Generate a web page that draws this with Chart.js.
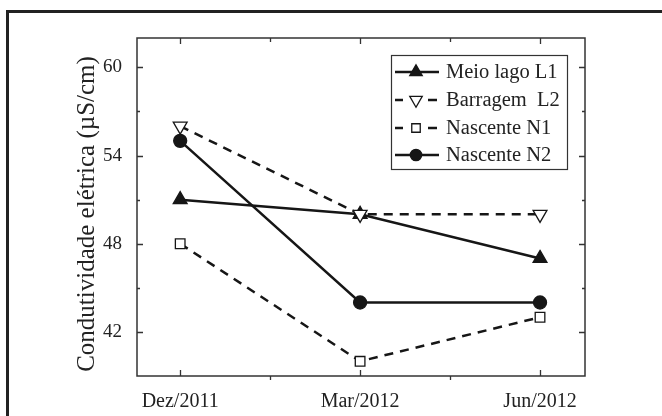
<!DOCTYPE html>
<html><head><meta charset="utf-8">
<script src="https://cdn.jsdelivr.net/npm/chart.js@4.4.0/dist/chart.umd.min.js"></script>
<style>html,body{margin:0;padding:0;background:#fff}canvas{display:block}</style>
</head><body>
<canvas id="c" width="662" height="416"></canvas>
<script>
const categories = ['Dez/2011', 'Mar/2012', 'Jun/2012'];
const meioLagoL1 = [51, 50, 47];
const barragemL2 = [56, 50, 50];
const nascenteN1 = [48, 40, 43];
const nascenteN2 = [55, 44, 44];
const seriesNames = ['Meio lago L1', 'Barragem  L2', 'Nascente N1', 'Nascente N2'];
const yTicks = [42, 48, 54, 60];
const yMinorTicks = [45, 51, 57];
const xMinorTicks = [0.5, 1.5];
const yTitle = 'Condutividade elétrica (µS/cm)';

const INK = '#161616';
const AXIS = '#333';
const FONT = '"Liberation Serif", "DejaVu Serif", serif';
const DASH = [9, 7];

function pts(arr) { return arr.map((v, i) => ({ x: i, y: v })); }

const styles = [
  { pointStyle: 'triangle', rotation: 0, radius: 8, fill: INK, dash: [] },
  { pointStyle: 'triangle', rotation: 180, radius: 8, fill: '#fff', dash: DASH },
  { pointStyle: 'rect', rotation: 0, radius: 6.8, fill: '#fff', dash: DASH },
  { pointStyle: 'circle', rotation: 0, radius: 6.5, fill: INK, dash: [] }
];
const seriesData = [meioLagoL1, barragemL2, nascenteN1, nascenteN2];
const orders = [2, 1, 3, 0];

const datasets = seriesData.map((d, i) => ({
  label: seriesNames[i],
  data: pts(d),
  order: orders[i],
  borderColor: INK,
  borderWidth: 2.5,
  borderDash: styles[i].dash,
  backgroundColor: styles[i].fill,
  pointStyle: styles[i].pointStyle,
  pointRotation: styles[i].rotation,
  pointRadius: styles[i].radius,
  pointHoverRadius: styles[i].radius,
  pointBackgroundColor: styles[i].fill,
  pointBorderColor: INK,
  pointBorderWidth: 1.3,
  fill: false,
  tension: 0
}));

const decor = {
  id: 'decor',
  beforeDraw(chart) {
    const ctx = chart.ctx;
    ctx.save();
    ctx.fillStyle = '#fff';
    ctx.fillRect(0, 0, chart.width, chart.height);
    ctx.strokeStyle = '#222';
    ctx.lineWidth = 3;
    ctx.beginPath();
    ctx.moveTo(7.5, 430); ctx.lineTo(7.5, 11.5); ctx.lineTo(680, 11.5);
    ctx.stroke();
    ctx.restore();
  },
  beforeDatasetsDraw(chart) {
    const ctx = chart.ctx;
    const a = chart.chartArea;
    const xs = chart.scales.x, ys = chart.scales.y;
    ctx.save();
    ctx.strokeStyle = AXIS;
    ctx.lineWidth = 1.5;
    ctx.strokeRect(a.left, a.top, a.right - a.left, a.bottom - a.top);
    ctx.lineWidth = 1.3;
    ctx.beginPath();
    categories.forEach((c, i) => {
      const x = Math.round(xs.getPixelForValue(i)) + 0.5;
      ctx.moveTo(x, a.bottom); ctx.lineTo(x, a.bottom - 6);
      ctx.moveTo(x, a.top); ctx.lineTo(x, a.top + 6);
    });
    xMinorTicks.forEach(v => {
      const x = Math.round(xs.getPixelForValue(v)) + 0.5;
      ctx.moveTo(x, a.bottom); ctx.lineTo(x, a.bottom + 4);
      ctx.moveTo(x, a.top); ctx.lineTo(x, a.top + 4);
    });
    yTicks.forEach(v => {
      const y = Math.round(ys.getPixelForValue(v)) + 0.5;
      ctx.moveTo(a.left, y); ctx.lineTo(a.left + 6, y);
      ctx.moveTo(a.right, y); ctx.lineTo(a.right - 6, y);
    });
    yMinorTicks.forEach(v => {
      const y = Math.round(ys.getPixelForValue(v)) + 0.5;
      ctx.moveTo(a.left, y); ctx.lineTo(a.left + 3, y);
      ctx.moveTo(a.right, y); ctx.lineTo(a.right - 3, y);
    });
    ctx.stroke();
    // y title
    ctx.fillStyle = '#222';
    ctx.font = '25px ' + FONT;
    ctx.textAlign = 'center';
    ctx.textBaseline = 'middle';
    ctx.translate(87, 214);
    ctx.rotate(-Math.PI / 2);
    ctx.fillText(yTitle, 0, 0);
    ctx.restore();
  },
  afterDraw(chart) {
    const ctx = chart.ctx;
    ctx.save();
    const L = 391, T = 55, R = 567, B = 169;
    ctx.fillStyle = '#fff';
    ctx.fillRect(L, T, R - L, B - T);
    ctx.strokeStyle = AXIS;
    ctx.lineWidth = 1.2;
    ctx.strokeRect(L + 0.5, T + 0.5, R - L, B - T);
    const rows = [72, 100, 128, 155];
    seriesNames.forEach((name, i) => {
      const y = rows[i];
      const st = styles[i];
      ctx.strokeStyle = INK;
      ctx.lineWidth = 2.5;
      ctx.setLineDash([]);
      ctx.beginPath();
      if (st.dash.length) {
        ctx.moveTo(395, y); ctx.lineTo(403, y);
        ctx.moveTo(428, y); ctx.lineTo(437, y);
      } else {
        ctx.moveTo(395, y); ctx.lineTo(439, y);
      }
      ctx.stroke();
      ctx.fillStyle = st.fill;
      ctx.strokeStyle = INK;
      ctx.lineWidth = 1.3;
      Chart.helpers.drawPoint(ctx, { pointStyle: st.pointStyle, rotation: st.rotation, radius: st.radius - 0.8, borderWidth: 1.3 }, 416, y);
      ctx.fillStyle = '#222';
      ctx.font = '20.5px ' + FONT;
      ctx.textAlign = 'left';
      ctx.textBaseline = 'middle';
      ctx.fillText(name, 446, y + 1);
    });
    ctx.restore();
  }
};

new Chart(document.getElementById('c'), {
  type: 'line',
  data: { datasets },
  options: {
    responsive: false,
    devicePixelRatio: 1,
    animation: false,
    layout: { padding: { left: 0, right: 77, top: 38, bottom: 0 } },
    plugins: { legend: { display: false }, tooltip: { enabled: false } },
    scales: {
      x: {
        type: 'linear',
        min: -0.24,
        max: 2.25,
        grid: { display: false },
        border: { display: false },
        afterFit: s => { s.height = 40; },
        afterBuildTicks: s => { s.ticks = categories.map((c, i) => ({ value: i })); },
        ticks: {
          padding: 6,
          color: '#222',
          font: { family: FONT, size: 20 },
          maxRotation: 0,
          autoSkip: false,
          callback: v => categories[v]
        }
      },
      y: {
        type: 'linear',
        min: 39,
        max: 62,
        grid: { display: false },
        border: { display: false },
        afterFit: s => { s.width = 137; },
        afterBuildTicks: s => { s.ticks = yTicks.map(v => ({ value: v })); },
        ticks: {
          padding: 7,
          color: '#222',
          font: { family: FONT, size: 19 },
          callback: v => String(v)
        }
      }
    }
  },
  plugins: [decor]
});
</script>
</body></html>
